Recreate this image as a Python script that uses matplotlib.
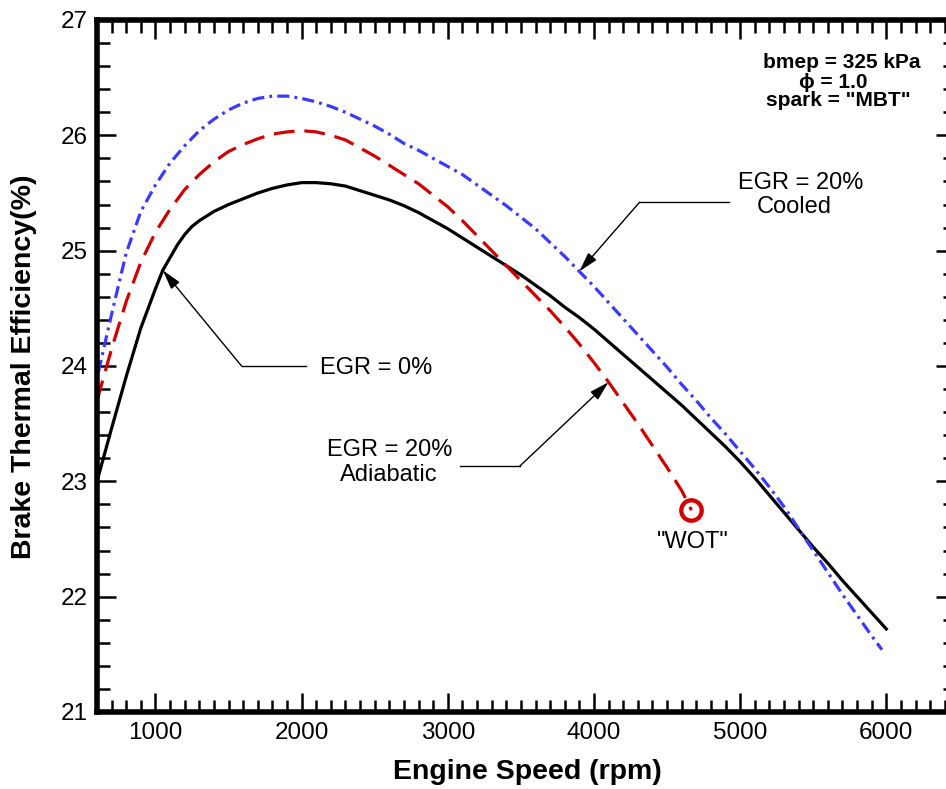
import matplotlib
matplotlib.use("Agg")
import matplotlib.pyplot as plt
from matplotlib.ticker import MultipleLocator

plt.rcParams['font.family'] = ['Liberation Sans', 'DejaVu Sans']

W, H = 946, 789

# engine speed (rpm) vs brake thermal efficiency (%)
speed_egr0 = [600, 700, 800, 900, 1000, 1050, 1100, 1150, 1200, 1250, 1300, 1400, 1500, 1600,
              1700, 1800, 1900, 2000, 2100, 2200, 2300, 2400, 2500, 2600, 2700, 2800, 2900,
              3000, 3100, 3200, 3300, 3400, 3500, 3600, 3700, 3800, 3900, 4000, 4100, 4200,
              4300, 4400, 4500, 4600, 4700, 4800, 4900, 5000, 5100, 5200, 5300, 5400, 5500,
              5600, 5700, 5800, 5900, 6000]
eff_egr0 = [23.00, 23.46, 23.91, 24.33, 24.67, 24.83, 24.94, 25.05, 25.14, 25.21, 25.26, 25.34, 25.40, 25.45,
            25.50, 25.54, 25.57, 25.59, 25.59, 25.58, 25.56, 25.52, 25.48, 25.44, 25.39, 25.33, 25.26,
            25.19, 25.11, 25.03, 24.95, 24.87, 24.79, 24.70, 24.61, 24.51, 24.42, 24.32, 24.21, 24.10,
            23.99, 23.88, 23.77, 23.66, 23.54, 23.42, 23.30, 23.17, 23.03, 22.88, 22.73, 22.58, 22.43,
            22.29, 22.14, 22.00, 21.86, 21.72]

speed_adi = [600, 700, 800, 900, 1000, 1100, 1200, 1300, 1400, 1500, 1600, 1700, 1800, 1900,
             2000, 2100, 2200, 2300, 2400, 2500, 2600, 2700, 2800, 2900, 3000, 3100, 3200,
             3300, 3400, 3500, 3600, 3700, 3800, 3900, 4000, 4100, 4200, 4300, 4400, 4500,
             4600, 4667]
eff_adi = [23.70, 24.15, 24.56, 24.90, 25.16, 25.36, 25.53, 25.66, 25.77, 25.86, 25.92, 25.97, 26.01, 26.03,
           26.04, 26.03, 26.00, 25.96, 25.89, 25.82, 25.74, 25.66, 25.58, 25.48, 25.38, 25.26, 25.13,
           25.00, 24.87, 24.74, 24.61, 24.48, 24.34, 24.19, 24.03, 23.86, 23.68, 23.50, 23.31, 23.12,
           22.92, 22.75]

speed_cool = [610, 700, 800, 900, 1000, 1100, 1200, 1300, 1400, 1500, 1600, 1700, 1800, 1900,
              2000, 2100, 2200, 2300, 2400, 2500, 2600, 2700, 2800, 2900, 3000, 3100, 3200,
              3300, 3400, 3500, 3600, 3700, 3800, 3900, 4000, 4100, 4200, 4300, 4400, 4500,
              4600, 4700, 4800, 4900, 5000, 5100, 5200, 5300, 5400, 5500, 5600, 5700, 5800,
              5900, 5970]
eff_cool = [23.95, 24.45, 24.98, 25.34, 25.57, 25.76, 25.91, 26.04, 26.14, 26.22, 26.28, 26.32, 26.34, 26.34,
            26.32, 26.29, 26.25, 26.20, 26.14, 26.08, 26.01, 25.93, 25.87, 25.80, 25.73, 25.66, 25.57,
            25.48, 25.39, 25.29, 25.19, 25.07, 24.95, 24.82, 24.69, 24.55, 24.41, 24.27, 24.13, 23.99,
            23.84, 23.70, 23.55, 23.41, 23.26, 23.11, 22.95, 22.78, 22.59, 22.40, 22.21, 22.02, 21.84,
            21.66, 21.54]

x_ticks = [1000, 2000, 3000, 4000, 5000, 6000]
y_ticks = [21, 22, 23, 24, 25, 26, 27]

# leader lines: (elbow, end of horizontal)
lead_egr0 = [(1589, 24.00), (2033, 24.00)]
lead_cool = [(4312, 25.42), (4927, 25.42)]
lead_adi = [(3491, 23.13), (3081, 23.13)]

RED = '#d20000'
BLUE = '#3a3aff'


def fxy(px, py):
    return px / W, 1 - py / H


fig = plt.figure(figsize=(W / 100, H / 100), dpi=100)
ax = fig.add_axes([97 / W, 1 - 712 / H, (955 - 97) / W, (712 - 20) / H])

ax.plot(speed_egr0, eff_egr0, color='black', lw=2.3, solid_joinstyle='round')
ax.plot(speed_adi, eff_adi, color=RED, lw=2.3, dashes=(6.5, 3.1))
ax.plot(speed_cool, eff_cool, color=BLUE, lw=2.3, dashes=(3.8, 1.6, 0.9, 1.6))
ax.plot(speed_adi[-1], eff_adi[-1], 'o', ms=14.7, mfc='none', mec=RED, mew=3.1)

ax.set_xlim(600, 6470)
ax.set_ylim(21, 27)
ax.set_xticks(x_ticks)
ax.set_yticks(y_ticks)
ax.xaxis.set_minor_locator(MultipleLocator(100))
ax.yaxis.set_minor_locator(MultipleLocator(0.2))
ax.tick_params(which='both', direction='in', top=True, right=True, width=1.8)
ax.tick_params(which='major', length=14, labelsize=17.5)
ax.tick_params(which='minor', length=9)
ax.tick_params(axis='y', pad=7)
ax.tick_params(axis='x', pad=7)
for s in ax.spines.values():
    s.set_linewidth(4)

# annotations with arrows
def leader(tip, pts):
    (ex, ey), (hx, hy) = pts
    ax.plot([ex, hx], [ey, hy], color='black', lw=1.0)
    ax.annotate('', xy=tip, xytext=(ex, ey),
                arrowprops=dict(arrowstyle='-|>,head_length=1.2,head_width=0.33',
                                color='black', lw=1.0, shrinkA=0, shrinkB=0,
                                mutation_scale=10))

leader((speed_egr0[5], eff_egr0[5]), lead_egr0)
leader((speed_cool[33], eff_cool[33]), lead_cool)
leader((speed_adi[35], eff_adi[35]), lead_adi)

fig.text(*fxy(320, 368), 'EGR = 0%', fontsize=17, ha='left', va='center')
fig.text(*fxy(801, 183), 'EGR = 20%', fontsize=17, ha='center', va='center')
fig.text(*fxy(794, 207), 'Cooled', fontsize=17, ha='center', va='center')
fig.text(*fxy(390, 450), 'EGR = 20%', fontsize=17, ha='center', va='center')
fig.text(*fxy(389, 475), 'Adiabatic', fontsize=17, ha='center', va='center')
fig.text(*fxy(693, 542), '"WOT"', fontsize=17, ha='center', va='center')

fig.text(*fxy(842, 63), 'bmep = 325 kPa', fontsize=15, fontweight='bold', ha='center', va='center')
fig.text(*fxy(833, 82), '\u03d5 = 1.0', fontsize=15, fontweight='bold', ha='center', va='center')
fig.text(*fxy(838, 100), 'spark = "MBT"', fontsize=15, fontweight='bold', ha='center', va='center')

fig.text(*fxy(527, 772), 'Engine Speed (rpm)', fontsize=20.5, fontweight='bold', ha='center', va='center')
fig.text(*fxy(24, 367), 'Brake Thermal Efficiency(%)', fontsize=20.5, fontweight='bold',
         ha='center', va='center', rotation=90)

fig.savefig('out.png', dpi=100)
